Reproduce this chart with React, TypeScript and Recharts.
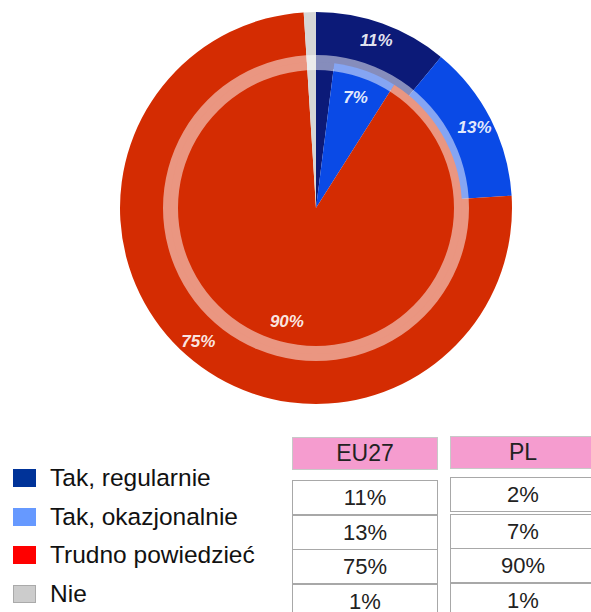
import { PieChart, Pie, Cell } from 'recharts';

const categories = ['Tak, regularnie', 'Tak, okazjonalnie', 'Trudno powiedzieć', 'Nie'];
const eu27Values = [11, 13, 75, 1];
const plValues = [2, 7, 90, 1];
const columns = ['EU27', 'PL'];

// colours used inside the pie
const PIE_COLORS = ['#0c1a78', '#0a4ae6', '#d42c02', '#d6d6d6'];
// colours of the legend squares
const LEGEND_COLORS = ['#003399', '#6699ff', '#ff0000', '#cccccc'];

const RADIAN = Math.PI / 180;
const FONT = '"Liberation Sans", Arial, sans-serif';

const euData = categories.map((name, i) => ({ name, value: eu27Values[i] }));
const plData = categories.map((name, i) => ({ name, value: plValues[i] }));
const ringData = [{ name: 'ring', value: 1 }];

const makeLabel = (radius: number, minValue: number) => (props: any) => {
  const { cx, cy, midAngle, value } = props;
  if (value < minValue) return null;
  const x = cx + radius * Math.cos(-midAngle * RADIAN);
  const y = cy + radius * Math.sin(-midAngle * RADIAN);
  return (
    <text
      x={x}
      y={y}
      fill="#ffffff"
      fillOpacity={0.9}
      textAnchor="middle"
      dominantBaseline="central"
      fontFamily={FONT}
      fontWeight="bold"
      fontStyle="italic"
      fontSize={17}
    >
      {`${value}%`}
    </text>
  );
};

export default function App() {
  return (
    <div style={{ position: 'absolute', left: 0, top: 0, width: 591, height: 612, background: '#fff', fontFamily: FONT, overflow: 'hidden' }}>
      <PieChart width={591} height={420} margin={{ top: 0, right: 0, bottom: 0, left: 0 }}>
        <Pie
          data={euData}
          dataKey="value"
          cx={316}
          cy={208}
          innerRadius={140}
          outerRadius={196}
          startAngle={90}
          endAngle={-270}
          stroke="none"
          labelLine={false}
          label={makeLabel(178, 5)}
          isAnimationActive={false}
        >
          {euData.map((d, i) => (
            <Cell key={`eu-${i}`} fill={PIE_COLORS[i]} />
          ))}
        </Pie>
        <Pie
          data={plData}
          dataKey="value"
          cx={316}
          cy={208}
          innerRadius={0}
          outerRadius={146}
          startAngle={90}
          endAngle={-270}
          stroke="none"
          labelLine={false}
          label={makeLabel(117, 5)}
          isAnimationActive={false}
        >
          {plData.map((d, i) => (
            <Cell key={`pl-${i}`} fill={PIE_COLORS[i]} />
          ))}
        </Pie>
        <Pie
          data={ringData}
          dataKey="value"
          cx={316}
          cy={208}
          innerRadius={138}
          outerRadius={153}
          startAngle={90}
          endAngle={-270}
          stroke="none"
          fill="#ffffff"
          fillOpacity={0.5}
          isAnimationActive={false}
        />
      </PieChart>

      {/* legend */}
      {categories.map((name, i) => (
        <div key={name} style={{ position: 'absolute', left: 13, top: 466 + i * 38.5, height: 24, display: 'flex', alignItems: 'center' }}>
          <div style={{ width: 23, height: 18, background: LEGEND_COLORS[i], border: i === 3 ? '1px solid #aaa' : 'none', boxSizing: 'border-box' }} />
          <span style={{ marginLeft: 14, fontSize: 24.5, color: '#111', whiteSpace: 'nowrap' }}>{name}</span>
        </div>
      ))}

      {/* table */}
      {columns.map((col, c) => {
        const left = c === 0 ? 292 : 450;
        const values = c === 0 ? eu27Values : plValues;
        return (
          <div key={col}>
            <div style={{ position: 'absolute', left, top: 437 - c, width: 146, height: 33, background: '#f59ccf', border: '1px solid #c8c8c8', boxSizing: 'border-box', textAlign: 'center', lineHeight: '31px', fontSize: 23, color: '#222' }}>
              {col}
            </div>
            {values.map((v, i) => (
              <div key={i} style={{ position: 'absolute', left, top: 480 - c * 3 + i * 34.5 + (c && i ? 2 : 0), width: 146, height: 35, background: '#fff', border: '1px solid #a8a8a8', boxSizing: 'border-box', textAlign: 'center', lineHeight: '33px', fontSize: 22, color: '#222' }}>
                {`${v}%`}
              </div>
            ))}
          </div>
        );
      })}
    </div>
  );
}
